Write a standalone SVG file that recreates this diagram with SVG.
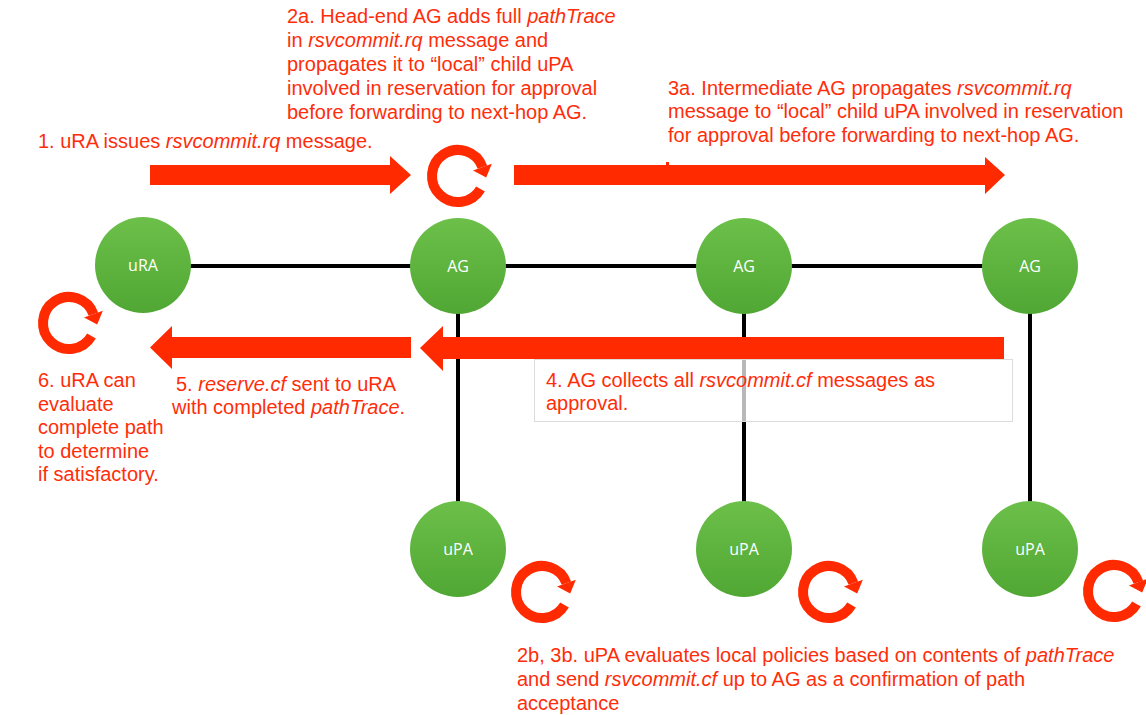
<svg xmlns="http://www.w3.org/2000/svg" xmlns:xlink="http://www.w3.org/1999/xlink" width="1146" height="715" viewBox="0 0 1146 715">
<style>
.lbl{font-family:"Liberation Sans",Arial,sans-serif;font-size:20px;fill:#ff2d0a}
.it{font-style:italic}
.nt{font-family:"Open Sans","Liberation Sans",sans-serif;font-size:16px;fill:#ffffff;text-anchor:middle}
.ln{stroke:#000;stroke-width:4;fill:none}
.arr{fill:#ff2a00}
.node{fill:url(#g)}
</style>
<defs>
<linearGradient id="g" x1="0" y1="0" x2="0" y2="1">
<stop offset="0" stop-color="#6cc04a"/>
<stop offset="1" stop-color="#50a733"/>
</linearGradient>
<symbol id="cyc" overflow="visible">
<path d="M24.43,-8.89 A26,26 0 1 0 22.52,13" fill="none" stroke="#ff2a00" stroke-width="10"/>
<polygon points="33.83,-12.31 15.03,-5.47 28.19,1.45" fill="#ff2a00"/>
</symbol>
</defs>
<rect width="1146" height="715" fill="#fff"/>
<g id="connectors">
<line class="ln" x1="143" y1="266" x2="1030" y2="266"/>
<line class="ln" x1="458" y1="266" x2="458" y2="549"/>
<line class="ln" x1="744" y1="266" x2="744" y2="549"/>
<line class="ln" x1="1030" y1="266" x2="1030" y2="549"/>
</g>
<g id="arrows">
<path class="arr" d="M150,165 H390 V156 L411,175 L390,194 V185 H150 Z"/>
<path class="arr" d="M514,165 H985 V157 L1005,175 L985,194 V185 H514 Z"/>
<rect class="arr" x="666" y="162" width="3" height="4"/>
<path class="arr" d="M1004,337 H443 V326 L420,348 L443,371 V359 H1004 Z"/>
<path class="arr" d="M411,337 H172 V326 L150,347.5 L172,369 V358 H411 Z"/>
</g>
<g id="box4">
<rect x="534.5" y="359.5" width="478" height="62" fill="#fff" fill-opacity="0.72" stroke="#dcdcdc" stroke-width="1"/>
</g>
<g id="node-uRA"><circle class="node" cx="143" cy="265" r="48"/><text class="nt" x="143" y="271">uRA</text></g>
<g id="node-AG1"><circle class="node" cx="458" cy="266" r="48"/><text class="nt" x="458" y="272">AG</text></g>
<g id="node-AG2"><circle class="node" cx="744" cy="266" r="48"/><text class="nt" x="744" y="272">AG</text></g>
<g id="node-AG3"><circle class="node" cx="1030" cy="266" r="48"/><text class="nt" x="1030" y="272">AG</text></g>
<g id="node-uPA1"><circle class="node" cx="458" cy="549" r="48"/><text class="nt" x="458" y="555">uPA</text></g>
<g id="node-uPA2"><circle class="node" cx="744" cy="549" r="48"/><text class="nt" x="744" y="555">uPA</text></g>
<g id="node-uPA3"><circle class="node" cx="1030" cy="549" r="48"/><text class="nt" x="1030" y="555">uPA</text></g>
<g id="cycles">
<use xlink:href="#cyc" href="#cyc" x="458" y="176"/>
<use xlink:href="#cyc" href="#cyc" x="69" y="323"/>
<use xlink:href="#cyc" href="#cyc" x="542" y="592"/>
<use xlink:href="#cyc" href="#cyc" x="829" y="592"/>
<use xlink:href="#cyc" href="#cyc" x="1114" y="591"/>
</g>
<g id="labels">
<text class="lbl" x="287" y="23">2a. Head-end AG adds full <tspan class="it">pathTrace</tspan></text>
<text class="lbl" x="287" y="47">in <tspan class="it">rsvcommit.rq</tspan> message and</text>
<text class="lbl" x="287" y="71">propagates it to “local” child uPA</text>
<text class="lbl" x="287" y="95">involved in reservation for approval</text>
<text class="lbl" x="287" y="119">before forwarding to next-hop AG.</text>
<text class="lbl" x="38" y="148">1. uRA issues <tspan class="it">rsvcommit.rq</tspan> message.</text>
<text class="lbl" x="668" y="95">3a. Intermediate AG propagates <tspan class="it">rsvcommit.rq</tspan></text>
<text class="lbl" x="668" y="118">message to “local” child uPA involved in reservation</text>
<text class="lbl" x="668" y="142">for approval before forwarding to next-hop AG.</text>
<text class="lbl" x="38" y="387">6. uRA can</text>
<text class="lbl" x="38" y="411">evaluate</text>
<text class="lbl" x="38" y="434">complete path</text>
<text class="lbl" x="38" y="458">to determine</text>
<text class="lbl" x="38" y="481">if satisfactory.</text>
<text class="lbl" x="176" y="391">5. <tspan class="it">reserve.cf</tspan> sent to uRA</text>
<text class="lbl" x="172" y="414">with completed <tspan class="it">pathTrace</tspan>.</text>
<text class="lbl" x="546" y="387">4. AG collects all <tspan class="it">rsvcommit.cf</tspan> messages as</text>
<text class="lbl" x="546" y="410">approval.</text>
<text class="lbl" x="517" y="662">2b, 3b. uPA evaluates local policies based on contents of <tspan class="it">pathTrace</tspan></text>
<text class="lbl" x="517" y="686">and send <tspan class="it">rsvcommit.cf</tspan> up to AG as a confirmation of path</text>
<text class="lbl" x="517" y="710">acceptance</text>
</g>
</svg>
